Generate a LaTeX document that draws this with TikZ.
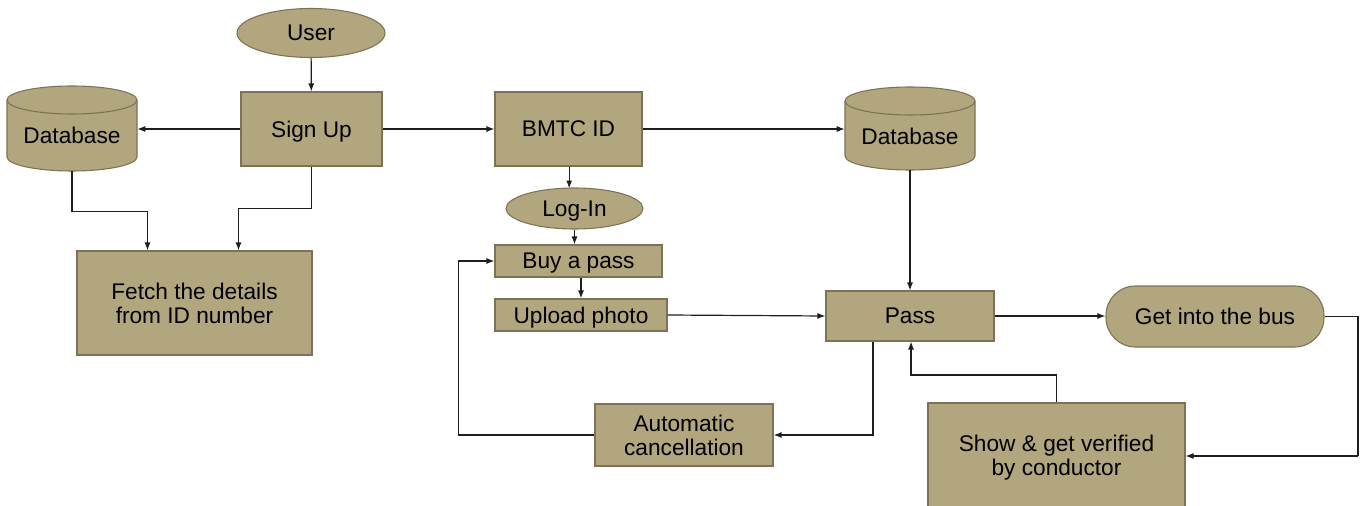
\documentclass[tikz,border=0pt]{standalone}
\usepackage{fontspec}
\setmainfont{Liberation Sans}
\usetikzlibrary{shapes.geometric,arrows.meta}
\definecolor{boxfill}{RGB}{177,166,126}
\definecolor{boxline}{RGB}{125,114,85}
\definecolor{flowline}{RGB}{30,30,30}

\begin{document}
\begin{tikzpicture}[x=0.75pt,y=0.75pt]
\tikzset{
  every node/.style={inner sep=0pt, font=\fontsize{17}{18}\selectfont},
  block/.style={rectangle, draw=boxline, fill=boxfill, line width=0.8pt, align=center},
  oval/.style={ellipse, draw=boxline, fill=boxfill, line width=0.8pt},
  pill/.style={rectangle, rounded corners=22pt, draw=boxline, fill=boxfill, line width=0.8pt},
  oneline/.style={text depth=0pt},
  dbshape/.style={draw=boxline, fill=boxfill, line width=0.8pt},
  flow/.style={draw=flowline, line width=0.9pt, -{Latex[length=6pt,width=4.5pt]}},
  link/.style={draw=flowline, line width=0.9pt}
}
\useasboundingbox (0,0) rectangle (1360,-506);
% database cylinders
\path[dbshape] (7,-100) -- (7,-157) arc[start angle=180,end angle=360,x radius=65,y radius=14]
  -- (137,-100) arc[start angle=0,end angle=180,x radius=65,y radius=14] -- cycle;
\draw[boxline, line width=0.8pt] (7,-100) arc[start angle=180,end angle=360,x radius=65,y radius=14];
\path[dbshape] (845,-101) -- (845,-156) arc[start angle=180,end angle=360,x radius=65,y radius=14]
  -- (975,-101) arc[start angle=0,end angle=180,x radius=65,y radius=14] -- cycle;
\draw[boxline, line width=0.8pt] (845,-101) arc[start angle=180,end angle=360,x radius=65,y radius=14];
% nodes
\node[oval, minimum width=111pt, minimum height=36.75pt] (user) at (311,-33) {User};
\node[block, oneline, minimum width=105.75pt, minimum height=55.5pt] (signup) at (311.5,-129) {Sign Up};
\node[minimum width=97.5pt, minimum height=54pt] (dbL) at (72,-135) {Database};
\node[block, minimum width=176.25pt, minimum height=78pt] (fetch) at (194.5,-303) {Fetch the details\\from ID number};
\node[block, minimum width=110.25pt, minimum height=55.5pt] (bmtc) at (568.5,-129) {BMTC ID};
\node[oval, oneline, minimum width=102.75pt, minimum height=30.75pt] (login) at (574.5,-208.5) {Log-In};
\node[block, oneline, minimum width=125.25pt, minimum height=24pt] (buy) at (578.5,-261) {Buy a pass};
\node[block, oneline, minimum width=129pt, minimum height=24pt] (upload) at (581,-315) {Upload photo};
\node[minimum width=97.5pt, minimum height=51pt] (dbR) at (910,-136) {Database};
\node[block, minimum width=126pt, minimum height=37.5pt] (pass) at (910,-316) {Pass};
\node[pill, minimum width=163.5pt, minimum height=45.75pt] (bus) at (1215,-316.5) {Get into the bus};
\node[block, minimum width=133.5pt, minimum height=46.5pt] (cancel) at (684,-435) {Automatic\\cancellation};
\node[block, minimum width=192.75pt, minimum height=82.5pt] (verify) at (1056.5,-458) {Show \& get verified\\by conductor};
\coordinate (busturn) at (1358,-456);
\coordinate (vturn) at (911,-375);
% connectors
\draw[flow] (user) -- (signup);
\draw[flow] (signup.west) -- (signup.west -| dbL.east);
\draw[flow] (signup.east) -- (bmtc.west);
\draw[flow] (bmtc.east) -- (bmtc.east -| dbR.west);
\draw[flow] (dbL.south) -- ++(0,-40) -| ([xshift=53.25pt]fetch.north west);
\draw[flow] (signup.south) -- ++(0,-42) -| ([xshift=121.5pt]fetch.north west);
\draw[flow] ([xshift=0.5pt]bmtc.south) -- ++(0,-22);
\draw[flow] (login.south) -- (login.south |- buy.north);
\draw[flow] (upload.north |- buy.south) -- (upload.north);
\draw[flow] (upload.east) -- (pass.west);
\draw[flow] (dbR.south) -- (pass.north);
\draw[flow] (pass.east) -- (pass.east -| bus.west);
\draw[link] (bus.east) -| (busturn);
\draw[flow] (busturn) -- (busturn -| verify.east);
\draw[flow] (verify.north) |- (vturn) -- (vturn |- pass.south);
\draw[flow] ([xshift=-27.75pt]pass.south) |- (cancel.east);
\draw[flow] (cancel.west) -- ++(-136,0) |- (buy.west);
\end{tikzpicture}
\end{document}
